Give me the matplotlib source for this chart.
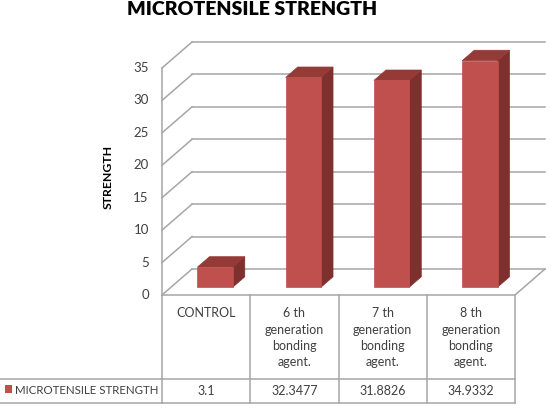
import matplotlib
matplotlib.use("Agg")
import matplotlib.pyplot as plt
from matplotlib.patches import Polygon, Rectangle
from matplotlib.transforms import blended_transform_factory

categories = ["CONTROL", "6 th\ngeneration\nbonding\nagent.",
              "7 th\ngeneration\nbonding\nagent.", "8 th\ngeneration\nbonding\nagent."]
values = [3.1, 32.3477, 31.8826, 34.9332]
value_labels = ["3.1", "32.3477", "31.8826", "34.9332"]
series_name = "MICROTENSILE STRENGTH"
yticks = [0, 5, 10, 15, 20, 25, 30, 35]

W, H = 558, 412
plt.rcParams['font.family'] = ['Lato', 'DejaVu Sans']
fig = plt.figure(figsize=(W / 100, H / 100), dpi=100)
fig.patch.set_facecolor('white')

def fx(px):
    return px / W

def fy(py):
    return 1 - py / H

# front plane of the 3D plot
L, R, B, T = 162, 515, 295, 68
ax = fig.add_axes([fx(L), fy(B), fx(R) - fx(L), fy(T) - fy(B)])
ax.set_xlim(0, 4)
ax.set_ylim(0, 35)
ax.axis('off')

# depth offsets (in data units) for a full depth of 1
px_per_x = (R - L) / 4
px_per_y = (B - T) / 35
DDX = 30 / px_per_x
DDY = 26 / px_per_y

def P(x, y, d):
    return (x + d * DDX, y + d * DDY)

grid_c = '#A6A6A6'
glw = 1.1

# back wall gridlines + left wall diagonals
for v in yticks:
    xs, ys = zip(P(0, v, 1), P(4, v, 1))
    ax.plot(xs, ys, color=grid_c, lw=glw, clip_on=False, zorder=1)
    xs, ys = zip(P(0, v, 0), P(0, v, 1))
    ax.plot(xs, ys, color=grid_c, lw=glw, clip_on=False, zorder=1)
# left wall front edge
ax.plot([0, 0], [0, 35], color=grid_c, lw=glw, clip_on=False, zorder=1)
# floor right diagonal
xs, ys = zip(P(4, 0, 0), P(4, 0, 1))
ax.plot(xs, ys, color=grid_c, lw=glw, clip_on=False, zorder=1)

# tick labels
for v in yticks:
    ax.text(-0.15, v, str(v), ha='right', va='center', fontsize=9.5,
            color='#404040')

# bars
front_c = '#C0504D'
side_c = '#7E302E'
top_c = '#943A37'
bw = 0.4
d0, d1 = 0.3, 0.7
for i, v in enumerate(values):
    x0 = i + 0.5 - bw / 2
    x1 = i + 0.5 + bw / 2
    side = [P(x1, 0, d0), P(x1, 0, d1), P(x1, v, d1), P(x1, v, d0)]
    top = [P(x0, v, d0), P(x1, v, d0), P(x1, v, d1), P(x0, v, d1)]
    front = [P(x0, 0, d0), P(x1, 0, d0), P(x1, v, d0), P(x0, v, d0)]
    for pts, c in ((side, side_c), (top, top_c), (front, front_c)):
        ax.add_patch(Polygon(pts, closed=True, facecolor=c, edgecolor=c,
                             lw=0.5, clip_on=False, zorder=3))

# axis title
fig.text(fx(108), fy(177), "STRENGTH", rotation=90, ha='center', va='center',
         fontsize=8.8, fontweight='bold', color='black')

# chart title
fig.text(fx(252), fy(15), "MICROTENSILE STRENGTH", ha='center', va='baseline',
         fontsize=14, fontweight='heavy', color='black')

# data table
tb = blended_transform_factory(ax.transData, fig.transFigure)
row_top, row_mid, row_bot = 295, 379, 403
tl_c = '#A6A6A6'
ax.plot([0, 4], [fy(row_top)] * 2, transform=tb, color=tl_c, lw=glw, clip_on=False)
ax.plot([0, 4], [fy(row_mid)] * 2, transform=tb, color=tl_c, lw=glw, clip_on=False)
ax.plot([0, 4], [fy(row_bot)] * 2, transform=tb, color=tl_c, lw=glw, clip_on=False)
fig.add_artist(plt.Line2D([fx(0), fx(L)], [fy(row_mid)] * 2, color=tl_c, lw=glw))
fig.add_artist(plt.Line2D([fx(0), fx(L)], [fy(row_bot)] * 2, color=tl_c, lw=glw))
for k in range(5):
    ax.plot([k, k], [fy(row_top), fy(row_bot)], transform=tb, color=tl_c,
            lw=glw, clip_on=False)

for i, (cat, lab) in enumerate(zip(categories, value_labels)):
    ax.text(i + 0.5, fy(307), cat, transform=tb, ha='center', va='top',
            fontsize=9, color='#404040', linespacing=1.45)
    ax.text(i + 0.5, fy(391), lab, transform=tb, ha='center', va='center',
            fontsize=9, color='#404040')

# legend key in table
fig.add_artist(Rectangle((fx(5), fy(393)), fx(7), fy(385) - fy(393),
                         facecolor=front_c, edgecolor='none'))
fig.text(fx(15), fy(391), series_name, ha='left', va='center', fontsize=8.3,
         color='#404040')

fig.savefig('out.png', dpi=100, facecolor='white')
